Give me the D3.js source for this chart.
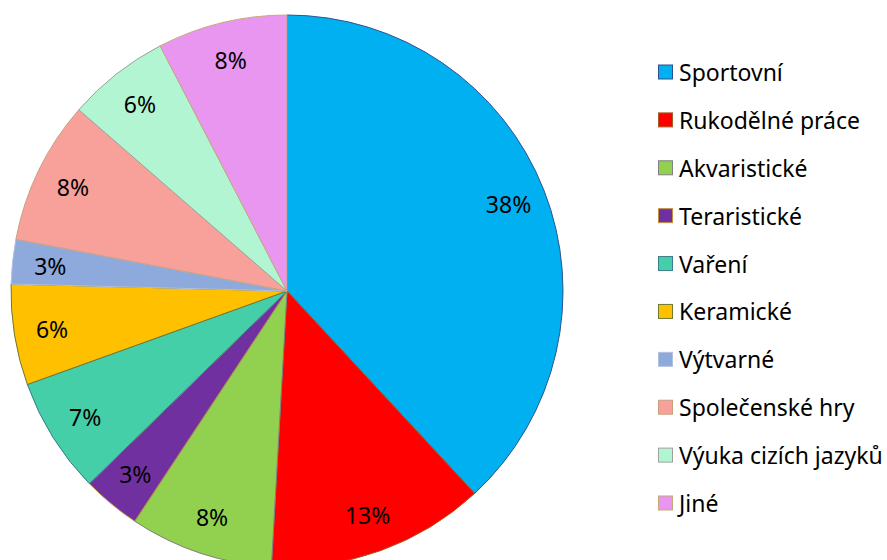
<!DOCTYPE html>
<html>
<head>
<meta charset="utf-8">
<script src="https://cdn.jsdelivr.net/npm/d3@7"></script>
<style>
  body { margin: 0; background: #fff; }
  svg { display: block; font-family: "Noto Sans", Lato, sans-serif; }
</style>
</head>
<body>
<svg id="chart" width="887" height="560"></svg>
<script>
'use strict';
const CATEGORIES = ['Sportovní', 'Rukodělné práce', 'Akvaristické', 'Teraristické', 'Vaření',
  'Keramické', 'Výtvarné', 'Společenské hry', 'Výuka cizích jazyků', 'Jiné'];
const VALUES = [38.1, 12.8, 8.4, 3.4, 6.8, 5.9, 2.6, 8.4, 6.0, 7.6];
const FILLS = ['#00B0F0', '#FF0000', '#92D050', '#7030A0', '#44CFA8',
  '#FFC000', '#8EA9DB', '#F8A19B', '#B2F5D3', '#E896F0'];
const STROKES = ['#2F528F', '#A65A2A', '#7F7F7F', '#C09040', '#3E7A8C',
  '#6E7A30', '#B4C0DC', '#C8A080', '#A0A0A0', '#C8A878'];

const WIDTH = 887, HEIGHT = 560;
const CX = 287, CY = 291, R = 276;

let svg = d3.select('#chart');
let total = d3.sum(VALUES);
let data = CATEGORIES.map(function(c, i) { return { name: c, value: VALUES[i], i: i }; });

let pie = d3.pie().sort(null).value(function(d) { return d.value; });
let arc = d3.arc().innerRadius(0).outerRadius(R);
let labelArc = d3.arc().innerRadius(238).outerRadius(238);

let g = svg.append('g').attr('transform', 'translate(' + CX + ',' + CY + ')');

g.selectAll('path')
  .data(pie(data))
  .enter()
  .append('path')
  .attr('d', arc)
  .attr('fill', function(d) { return FILLS[d.data.i]; })
  .attr('stroke', function(d) { return STROKES[d.data.i]; })
  .attr('stroke-width', 1);

// percent labels
g.selectAll('text')
  .data(pie(data))
  .enter()
  .append('text')
  .attr('transform', function(d) { return 'translate(' + labelArc.centroid(d) + ')'; })
  .attr('text-anchor', 'middle')
  .attr('dominant-baseline', 'central')
  .attr('font-size', 23)
  .attr('fill', '#000')
  .text(function(d) { return Math.round(d.data.value / total * 100) + '%'; });

// legend
let yScale = d3.scaleLinear().domain([0, CATEGORIES.length - 1]).range([72, 503]);
let legend = svg.selectAll('g.legend')
  .data(data)
  .enter()
  .append('g')
  .attr('class', 'legend')
  .attr('transform', function(d) { return 'translate(0,' + yScale(d.i) + ')'; });

legend.append('rect')
  .attr('x', 658.5)
  .attr('y', -7)
  .attr('width', 14)
  .attr('height', 14)
  .attr('fill', function(d) { return FILLS[d.i]; })
  .attr('stroke', function(d) { return STROKES[d.i]; })
  .attr('stroke-width', 1);

legend.append('text')
  .attr('x', 679)
  .attr('y', 0)
  .attr('dominant-baseline', 'central')
  .attr('font-size', 23)
  .attr('fill', '#000')
  .text(function(d) { return d.name; });
</script>
</body>
</html>
